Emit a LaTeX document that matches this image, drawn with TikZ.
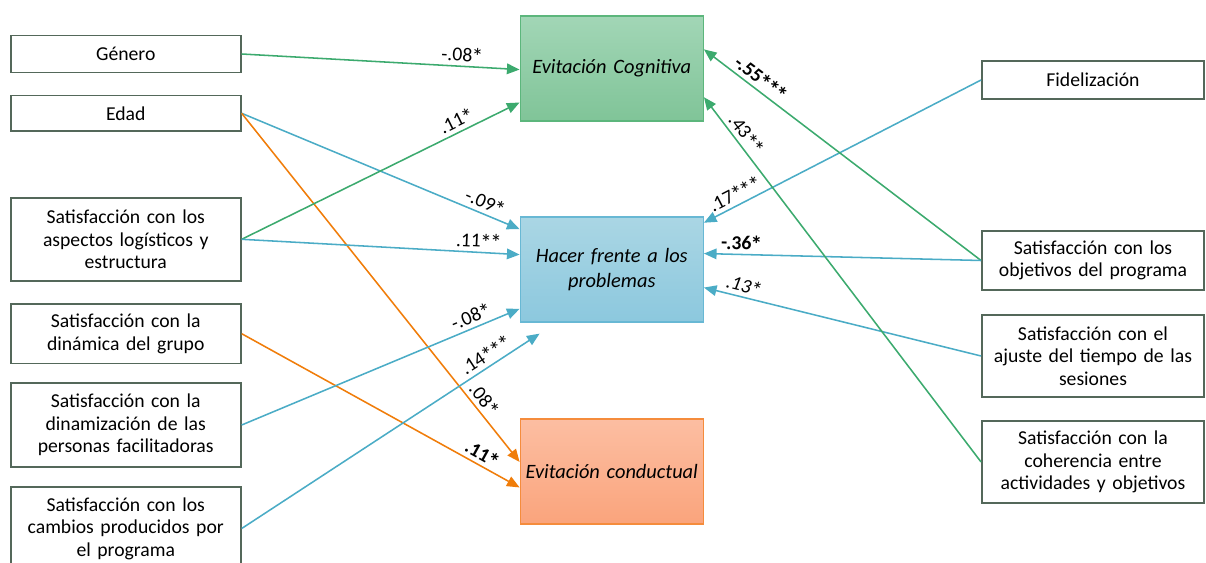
\documentclass[tikz,border=0pt]{standalone}
\usepackage{fontspec}
\setmainfont{Carlito}
\usepackage{tikz}
\usetikzlibrary{calc}
\usetikzlibrary{arrows.meta}
\usetikzlibrary{positioning}
\definecolor{boxgray}{RGB}{84, 104, 90}
\definecolor{pathgreen}{RGB}{60, 170, 110}
\definecolor{pathblue}{RGB}{75, 172, 198}
\definecolor{pathorange}{RGB}{240, 125, 10}
\definecolor{cogtop}{RGB}{162, 214, 182}
\definecolor{cogbot}{RGB}{128, 196, 152}
\definecolor{cogline}{RGB}{92, 182, 124}
\definecolor{facetop}{RGB}{170, 214, 228}
\definecolor{facebot}{RGB}{140, 200, 222}
\definecolor{faceline}{RGB}{104, 184, 212}
\definecolor{condtop}{RGB}{252, 190, 162}
\definecolor{condbot}{RGB}{250, 164, 124}
\definecolor{condline}{RGB}{245, 140, 60}
\newcommand{\sg}{\kern-0.04em\raisebox{-0.3ex}{\fontsize{16.5}{16.5}\selectfont *}\kern-0.04em}

\tikzset{
    varbox/.style={draw=boxgray, line width=1.3pt, fill=white, align=center, text width=5.5cm,
                   minimum width=5.75cm, inner sep=0pt, font=\fontsize{14}{16}\selectfont},
    rvarbox/.style={varbox, minimum width=5.55cm, text width=5.4cm},
    outbox/.style={line width=0.9pt, align=center, text width=4.4cm, minimum width=4.575cm,
                   minimum height=2.625cm, inner sep=0pt, font=\fontsize{14.5}{17.5}\selectfont\itshape},
    gpath/.style={pathgreen,  line width=1.1pt, -{Triangle[length=9pt,width=7.5pt]}},
    bpath/.style={pathblue,   line width=1.1pt, -{Triangle[length=9pt,width=7.5pt]}},
    opath/.style={pathorange, line width=1.1pt, -{Triangle[length=9pt,width=7.5pt]}},
    lbl/.style={sloped, above, inner sep=1pt, text=black, font=\fontsize{14}{15}\selectfont}
}

\begin{document}
\begin{tikzpicture}[x=0.025cm, y=-0.025cm]
            \useasboundingbox (0,0) rectangle (1206,563);
            \node[outbox, draw=cogline,  top color=cogtop,  bottom color=cogbot]  (cog)  at (611.75, 68.5)  {Evitación Cognitiva};
            \node[outbox, draw=faceline, top color=facetop, bottom color=facebot] (face) at (611.75, 269.5) {Hacer frente a los\\problemas};
            \node[outbox, draw=condline, top color=condtop, bottom color=condbot] (cond) at (611.75, 471.5) {Evitación conductual};

            \node[varbox, minimum height=0.925cm] (gen)  at (125.75, 54)    {Género};
            \node[varbox, minimum height=0.89cm]  (edad) at (125.75, 113.3) {Edad};
            \node[varbox, minimum height=2.08cm]  (logi) at (125.75, 239.3) {Satisfacción con los\\aspectos logísticos y\\estructura};
            \node[varbox, minimum height=1.49cm]  (dina) at (125.75, 333.7) {Satisfacción con la\\dinámica del grupo};
            \node[varbox, minimum height=2.1cm]   (faci) at (125.75, 425)   {Satisfacción con la\\dinamización de las\\personas facilitadoras};
            \node[varbox, minimum height=2.075cm] (camb) at (125.75, 528.5) {Satisfacción con los\\cambios producidos por\\el programa};

            \node[rvarbox, minimum height=0.95cm]  (fide) at (1093, 80)    {Fidelización};
            \node[rvarbox, minimum height=1.475cm] (obje) at (1093, 260.5) {Satisfacción con los\\objetivos del programa};
            \node[rvarbox, minimum height=2.05cm]  (ajus) at (1093, 356)   {Satisfacción con el\\ajuste del tiempo de las\\sesiones};
            \node[rvarbox, minimum height=2.05cm]  (cohe) at (1093, 462)   {Satisfacción con la\\coherencia entre\\actividades y objetivos};

            \draw[gpath] (gen.east)  -- ($(cog.north west)!0.51!(cog.south west)$)   node[lbl, pos=0.79]  {-.08\sg};
            \draw[bpath] (edad.east) -- ($(face.north west)!0.12!(face.south west)$) node[lbl, pos=0.86]  {-.09\sg};
            \draw[opath] (edad.east) -- ($(cond.north west)!0.41!(cond.south west)$) node[lbl, pos=0.84]  {.08\sg};
            \draw[gpath] (logi.east) -- ($(cog.north west)!0.82!(cog.south west)$)   node[lbl, pos=0.79]  {.11\sg};
            \draw[bpath] (logi.east) -- ($(face.north west)!0.36!(face.south west)$) node[lbl, pos=0.85]  {.11\sg\sg};
            \draw[opath] (dina.east) -- ($(cond.north west)!0.65!(cond.south west)$) node[lbl, pos=0.845] {\textbf{.11\sg}};
            \draw[bpath] (faci.east) -- ($(face.north west)!0.87!(face.south west)$) node[lbl, pos=0.84]  {-.08\sg};
            \draw[bpath] (camb.east) -- ($(face.south west)+(20,11)$)                node[lbl, pos=0.84]  {.14\sg\sg\sg};

            \draw[bpath] (fide.west) -- ($(face.north east)!0.06!(face.south east)$) node[lbl, pos=0.87]  {.17\sg\sg\sg};
            \draw[gpath] (obje.west) -- ($(cog.north east)!0.32!(cog.south east)$)   node[lbl, pos=0.82]  {\textbf{-.55\sg\sg\sg}};
            \draw[bpath] (obje.west) -- ($(face.north east)!0.35!(face.south east)$) node[lbl, pos=0.866] {\textbf{-.36\sg}};
            \draw[bpath] (ajus.west) -- ($(face.north east)!0.67!(face.south east)$) node[lbl, pos=0.866] {\textit{.13\sg}};
            \draw[gpath] (cohe.west) -- ($(cog.north east)!0.77!(cog.south east)$)   node[lbl, pos=0.88]  {.43\sg\sg};
        \end{tikzpicture}
\end{document}
